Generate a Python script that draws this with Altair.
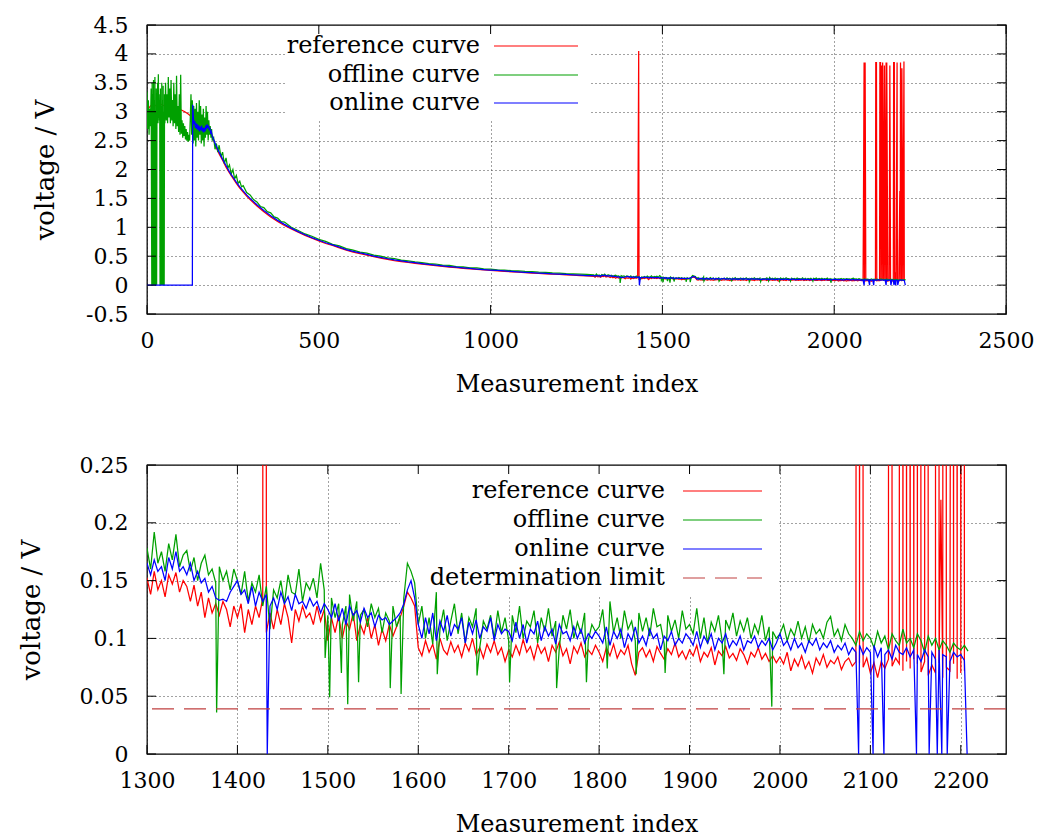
import altair as alt
import pandas as pd

FONT = "DejaVu Serif"
FS = 22      # tick labels
FS_T = 24    # titles and key text
FS_Y = 26    # y-axis title
W, H = 859, 289

series_names = ["reference curve", "offline curve", "online curve"]
series_colors = ["#ff0000", "#00a000", "#0000ff"]
limit_label = "determination limit"
limit_color = "#c04040"
determination_limit = 0.039

top_x_ticks = [0, 500, 1000, 1500, 2000, 2500]
top_y_ticks = [-0.5, 0, 0.5, 1, 1.5, 2, 2.5, 3, 3.5, 4, 4.5]
bot_x_ticks = [1300, 1400, 1500, 1600, 1700, 1800, 1900, 2000, 2100, 2200]
bot_y_ticks = [0, 0.05, 0.1, 0.15, 0.2, 0.25]

# ---------------- reference curve ----------------
ref_early = [(0, 2.98), (5, 3.06), (10, 3.10), (20, 3.12), (30, 3.09), (40, 3.13), (50, 3.10),
             (60, 3.12), (70, 3.08), (80, 3.06), (90, 3.05), (100, 3.03), (110, 3.00), (120, 2.96),
             (128, 2.92), (135, 2.86), (140, 2.80), (150, 2.74), (160, 2.73), (170, 2.71), (180, 2.68),
             (190, 2.58), (200, 2.40), (210, 2.27), (220, 2.16), (230, 2.04), (240, 1.94), (250, 1.85),
             (260, 1.76), (270, 1.68), (280, 1.61), (290, 1.54), (300, 1.48), (320, 1.37), (340, 1.27),
             (360, 1.18), (380, 1.10), (400, 1.03)]
# idx 420..1280, every 20
ref_mid = [.97, .915, .86, .81, .765, .72, .685, .645, .605, .572, .545, .52, .492, .468, .445,
           .425, .408, .392, .377, .363, .35, .337, .324, .312, .301, .29, .28, .27, .262, .253,
           .246, .238, .23, .223, .216, .209, .202, .196, .19, .184, .178, .172, .166, .16]
# idx 1300.., every 4
ref_fine = [
    .152, .138, .158, .142, .150, .136, .155, .147, .157, .140, .150, .145, .132, .146, .128, .140, .118, .135, .122, .130, .120, .132, .125, .110, .128,
    .118, .130, .105, .125, .112, .128, .118, .135, .105, .122, .108, .125, .112, .130, .118, .096, .125, .115, .128, .118, .122, .112, .128, .115, .125,
    .098, .118, .105, .120, .100, .115, .108, .122, .098, .112, .104, .118, .100, .112, .094, .108, .098, .112, .102, .110, .118, .128, .140, .135, .128,
    .092, .085, .098, .088, .095, .082, .100, .090, .086, .097, .088, .094, .084, .096, .089, .100, .086, .092, .083, .095, .088, .098, .086, .092, .080,
    .090, .084, .094, .086, .099, .088, .093, .082, .095, .087, .092, .080, .094, .088, .097, .085, .091, .078, .093, .087, .096, .084, .090, .086, .094,
    .088, .080, .092, .085, .095, .083, .090, .086, .094, .078, .068, .088, .092, .084, .090, .080, .093, .087, .082, .091, .086, .096, .084, .089, .082,
    .090, .085, .094, .080, .088, .084, .092, .077, .089, .085, .093, .083, .087, .081, .091, .086, .078, .088, .084, .092, .082, .087, .080, .085, .079,
    .084, .078, .088, .072, .082, .076, .085, .074, .080, .070, .083, .077, .086, .075, .081, .078, .084, .073, .080, .083, .076, .080, .079, .075, .083,
    .070, .079, .066, .080, .074, .082, .076, .083, .078, .072, .080, .074, .082, .078, .071, .080, .068, .077, .070, .079, .066, .075, .072, .078, .065,
    .070, .072]
ref_spikes = [(1431, 4.05), (2085, 1.19), (2087, 3.85), (2090, 3.85), (2121, 3.85), (2123, 3.85),
              (2133, 3.85), (2135, 3.85), (2138, 3.80), (2141, 3.85), (2146, 3.80), (2151, 3.85),
              (2153, 3.85), (2162, 3.80), (2173, 3.85), (2175, 3.85), (2178, 0.22), (2183, 3.85),
              (2191, 1.63), (2193, 3.85), (2197, 3.75), (2203, 3.87)]

# ---------------- offline curve ----------------
off_early = [(0, 3.35), (2, 2.7), (4, 3.2), (6, 2.6), (8, 3.05), (10, 2.75), (12, 3.4), (14, 0.0), (15, 3.5),
             (16, 0.0), (17, 3.3), (18, 0.0), (19, 3.55), (20, 0.0), (21, 3.2), (22, 0.0), (23, 3.6), (24, 0.0),
             (25, 3.0), (26, 0.0), (27, 3.4), (28, 0.0), (29, 3.1), (30, 2.85), (31, 3.5), (32, 2.8), (33, 3.65),
             (34, 2.9), (35, 3.3), (36, 2.85), (37, 3.2), (38, 0.0), (39, 3.4), (40, 0.0), (41, 3.1), (42, 0.0),
             (43, 3.5), (44, 0.0), (45, 3.2), (46, 0.0), (47, 3.45), (48, 0.0), (49, 3.0), (50, 0.0), (51, 3.3),
             (52, 2.8), (54, 3.5), (56, 2.85), (58, 3.3), (60, 2.8), (62, 3.6), (64, 2.9), (66, 3.4), (68, 2.8),
             (70, 3.55), (72, 2.85), (74, 3.2), (76, 2.75), (78, 3.5), (80, 2.8), (82, 3.3), (84, 2.7), (86, 3.62),
             (88, 2.75), (90, 3.1), (92, 2.65), (94, 3.3), (96, 2.6), (98, 3.64), (100, 2.62), (102, 2.85),
             (104, 2.55), (106, 2.8), (108, 2.58), (110, 2.75), (112, 2.52), (114, 2.7), (116, 2.5), (118, 2.65),
             (120, 2.48), (122, 2.6), (124, 2.5), (126, 2.9), (128, 3.3), (130, 2.6), (132, 3.2), (134, 2.45),
             (136, 3.1), (138, 2.5), (140, 3.05), (142, 2.4), (144, 3.15), (146, 2.55), (148, 3.0), (150, 2.5),
             (152, 3.2), (154, 2.6), (156, 3.1), (158, 2.45), (160, 2.95), (162, 2.5), (164, 3.05), (166, 2.4),
             (168, 2.9), (170, 2.55), (172, 3.1), (174, 2.6), (176, 3.0), (178, 2.5), (180, 2.85), (182, 2.6),
             (184, 2.75), (186, 2.55), (188, 2.7), (190, 2.5), (194, 2.55), (198, 2.35), (202, 2.45), (206, 2.3),
             (210, 2.42), (215, 2.22), (220, 2.3), (225, 2.1), (230, 2.2), (235, 2.02), (240, 2.08), (245, 1.92),
             (250, 2.0), (255, 1.84), (260, 1.9), (265, 1.76), (270, 1.8), (275, 1.7), (280, 1.72), (290, 1.6),
             (300, 1.56), (310, 1.48), (320, 1.44), (330, 1.36), (340, 1.34), (350, 1.27), (360, 1.25),
             (370, 1.18), (380, 1.16), (390, 1.10), (400, 1.09)]
off_mid = [1.0, .945, .885, .845, .79, .755, .705, .68, .632, .605, .57, .552, .518, .5, .47,
           .458, .432, .42, .4, .39, .372, .365, .345, .34, .32, .316, .3, .296, .281, .277,
           .265, .26, .25, .246, .236, .232, .224, .22, .212, .208, .2, .196, .19, .184]
off_fine = [
    .178, .160, .192, .165, .175, .158, .182, .168, .190, .162, .172, .176, .158, .170, .150, .165, .172, .155, .160, .148, .162, .150, .158, .142, .160,
    .150, .138, .158, .132, .148, .140, .155, .128, .145, .108, .142, .135, .150, .130, .155, .140, .138, .160, .132, .148, .142, .152, .135, .165, .142,
    .120, .135, .118, .130, .112, .128, .138, .115, .132, .120, .125, .110, .130, .118, .126, .105, .122, .115, .128, .110, .120, .135, .165, .158, .148,
    .112, .128, .100, .118, .095, .140, .108, .125, .098, .115, .130, .104, .122, .096, .118, .110, .126, .092, .115, .108, .120, .100, .124, .105, .118,
    .098, .120, .105, .128, .100, .115, .110, .124, .096, .118, .106, .126, .102, .115, .092, .120, .108, .125, .100, .114, .104, .122, .098, .112, .106,
    .110, .125, .092, .132, .105, .118, .100, .124, .108, .115, .098, .122, .106, .118, .102, .126, .110, .112, .095, .120, .106, .116, .100, .124, .108,
    .112, .104, .126, .100, .118, .095, .114, .106, .120, .098, .116, .108, .122, .102, .115, .106, .118, .100, .112, .104, .120, .098, .110, .106, .100,
    .104, .112, .098, .108, .102, .115, .100, .110, .096, .112, .104, .108, .100, .114, .119, .102, .108, .098, .112, .104, .100, .094, .106, .098, .104,
    .100, .092, .106, .096, .102, .090, .104, .098, .094, .108, .096, .100, .092, .104, .098, .088, .102, .094, .100, .090, .098, .094, .088, .096, .092,
    .090, .094, .089]
off_dips = [(1377, 0.036), (1497, 0.083), (1502, 0.049), (1515, 0.070), (1522, 0.043), (1534, 0.062),
            (1569, 0.057), (1581, 0.052), (1621, 0.069), (1665, 0.068), (1701, 0.062), (1753, 0.057),
            (1786, 0.062), (1809, 0.074), (1841, 0.069), (1873, 0.070), (1938, 0.069), (1991, 0.041)]

# ---------------- online curve ----------------
on_early = [(0, 0.0), (132, 0.0), (133, 3.12), (135, 2.90), (137, 2.78), (139, 2.84), (141, 2.72), (143, 2.80),
            (145, 2.70), (147, 2.78), (149, 2.68), (151, 2.76), (153, 2.66), (155, 2.74), (157, 2.68), (159, 2.76),
            (161, 2.66), (163, 2.72), (165, 2.64), (167, 2.72), (169, 2.66), (171, 2.76), (173, 2.70), (175, 2.78),
            (177, 2.72), (179, 2.76), (181, 2.68), (183, 2.72), (185, 2.64), (187, 2.66), (190, 2.58), (195, 2.50),
            (200, 2.43), (205, 2.36), (210, 2.30), (220, 2.18), (230, 2.07), (240, 1.96), (250, 1.87), (260, 1.78),
            (270, 1.70), (280, 1.63), (290, 1.56), (300, 1.50), (320, 1.39), (340, 1.29), (360, 1.20), (380, 1.12),
            (400, 1.05)]
on_mid = [.985, .925, .872, .822, .776, .733, .695, .657, .615, .585, .556, .53, .503, .478, .456,
          .435, .418, .401, .387, .372, .359, .346, .333, .32, .309, .298, .288, .278, .269, .26,
          .253, .245, .237, .23, .222, .215, .208, .202, .196, .19, .184, .178, .172, .166]
on_fine = [
    .165, .155, .168, .158, .162, .150, .170, .160, .175, .158, .162, .155, .165, .150, .158, .148, .152, .140, .145, .135, .133, .134, .132, .140, .145,
    .150, .138, .142, .130, .145, .128, .140, .132, .138, .128, .135, .125, .140, .130, .136, .124, .138, .130, .132, .126, .135, .128, .132, .122, .130,
    .125, .118, .130, .115, .126, .112, .128, .120, .124, .114, .126, .118, .122, .110, .120, .116, .118, .112, .115, .118, .122, .130, .142, .150, .135,
    .112, .100, .118, .104, .122, .098, .115, .106, .120, .102, .112, .108, .118, .096, .114, .104, .116, .100, .110, .106, .118, .098, .112, .104, .108,
    .106, .098, .114, .100, .112, .096, .108, .104, .115, .098, .110, .102, .108, .095, .112, .104, .106, .098, .110, .100, .108, .096, .104, .100, .106,
    .102, .096, .110, .094, .106, .100, .108, .092, .104, .098, .110, .096, .102, .094, .108, .100, .104, .090, .102, .098, .106, .094, .100, .096, .104,
    .100, .094, .106, .092, .102, .096, .104, .090, .100, .096, .104, .092, .098, .094, .102, .090, .098, .096, .102, .092, .098, .094, .100, .090, .096,
    .104, .094, .098, .090, .100, .092, .096, .088, .098, .094, .100, .090, .096, .092, .098, .088, .094, .090, .096, .086, .092, .088, .094, .086, .092,
    .088, .094, .084, .092, .086, .090, .082, .094, .088, .086, .092, .084, .090, .086, .080, .090, .084, .088, .082, .090, .086, .084, .080, .088, .084,
    .086, .081]
on_drops = [(1433, 0.0), (2087, 0.0), (2103, 0.0), (2115, 0.0), (2151, 0.0), (2165, 0.0), (2174, 0.0),
            (2179, 0.0), (2185, 0.0), (2207, 0.0)]


def build(name, early, mid, fine, extra):
    pts = list(early)
    pts += [(420 + 20 * i, v) for i, v in enumerate(mid)]
    pts += [(1300 + 4 * i, v) for i, v in enumerate(fine)]
    pts += list(extra)
    pts.sort(key=lambda p: p[0])
    return pd.DataFrame({"idx": [p[0] for p in pts], "voltage": [p[1] for p in pts], "series": name})


curves = [
    build(series_names[0], ref_early, ref_mid, ref_fine, ref_spikes),
    build(series_names[1], off_early, off_mid, off_fine, off_dips),
    build(series_names[2], on_early, on_mid, on_fine, on_drops),
]

dummy = pd.DataFrame({"a": [0]})


def enc_x(dom, ticks):
    return alt.X("idx:Q", scale=alt.Scale(domain=dom, nice=False, zero=False),
                 axis=alt.Axis(values=ticks, format="d", title="Measurement index", grid=True,
                               labelFlush=False, titleFont=FONT, titleFontSize=FS_T,
                               titleFontWeight="normal", labelFont=FONT))


def enc_y(dom, ticks, title_x):
    return alt.Y("voltage:Q", scale=alt.Scale(domain=dom, nice=False, zero=False),
                 axis=alt.Axis(values=ticks, format="~g", labelExpr="replace(datum.label, '\u2212', '-')",
                               title="voltage / V", titleX=title_x, titleBaseline="middle", grid=True,
                               labelFlush=False, titleFont=FONT, titleFontSize=FS_Y,
                               titleFontWeight="normal", labelFont=FONT))


def panel(xdom, ydom, xt, yt, title_x, key_box, text_right, sample_x, rows_y, with_limit):
    ex = enc_x(xdom, xt)
    ey = enc_y(ydom, yt, title_x)
    layers = []
    # opaque key background (hides grid)
    layers.append(alt.Chart(dummy).mark_rect(color="white").encode(
        x=alt.value(key_box[0]), x2=alt.value(key_box[1]), y=alt.value(key_box[2]), y2=alt.value(key_box[3])))
    for df, c in zip(curves, series_colors):
        layers.append(alt.Chart(df).mark_line(color=c, strokeWidth=1.25, clip=True).encode(x=ex, y=ey))
    if with_limit:
        layers.append(alt.Chart(pd.DataFrame({"voltage": [determination_limit]})).mark_rule(
            color=limit_color, strokeWidth=1.2, strokeDash=[22, 10]).encode(y=ey))
    # key entries
    labels = series_names + ([limit_label] if with_limit else [])
    colors = series_colors + ([limit_color] if with_limit else [])
    for i, (lab, col) in enumerate(zip(labels, colors)):
        layers.append(alt.Chart(dummy).mark_text(text=lab, align="right", baseline="middle", font=FONT,
                                                 fontSize=FS_T, color="black").encode(
            x=alt.value(text_right), y=alt.value(rows_y[i])))
        dash = [22, 10] if lab == limit_label else [1, 0]
        layers.append(alt.Chart(dummy).mark_rule(color=col, strokeWidth=1.2, strokeDash=dash).encode(
            x=alt.value(sample_x[0]), x2=alt.value(sample_x[1]), y=alt.value(rows_y[i])))
    # inward ticks on all four sides
    xtd = pd.DataFrame({"idx": xt})
    ytd = pd.DataFrame({"voltage": yt})
    tl = 9
    layers.append(alt.Chart(xtd).mark_rule(color="black", strokeWidth=1).encode(
        x=ex, y=alt.value(H), y2=alt.value(H - tl)))
    layers.append(alt.Chart(xtd).mark_rule(color="black", strokeWidth=1).encode(
        x=ex, y=alt.value(0), y2=alt.value(tl)))
    layers.append(alt.Chart(ytd).mark_rule(color="black", strokeWidth=1).encode(
        y=ey, x=alt.value(0), x2=alt.value(tl)))
    layers.append(alt.Chart(ytd).mark_rule(color="black", strokeWidth=1).encode(
        y=ey, x=alt.value(W - tl), x2=alt.value(W)))
    return alt.layer(*layers).properties(width=W, height=H)


top = panel([0, 2500], [-0.5, 4.5], top_x_ticks, top_y_ticks, -102,
            (138, 443, 1.5, 94), 333, (347, 431), [21, 50, 78], False)
bottom = panel([1300, 2250], [0, 0.25], bot_x_ticks, bot_y_ticks, -116,
               (253, 631, 1.5, 130), 518, (536, 615), [26, 55, 84, 113], True)

chart = alt.vconcat(top, bottom, spacing=151, bounds="flush").properties(
    padding={"left": 17, "top": 13, "right": 4, "bottom": 2},
    background="white",
).configure_view(
    stroke="black", strokeWidth=1.3
).configure_axis(
    labelFont=FONT, labelFontSize=FS, labelColor="black",
    titleFont=FONT, titleFontSize=FS_T, titleFontWeight="normal", titleColor="black",
    domain=False, ticks=False, tickSize=0,
    gridColor="#444444", gridDash=[1, 3], gridWidth=1, gridOpacity=1,
).configure_axisX(
    labelPadding=16, titlePadding=21
).configure_axisY(
    labelPadding=19
)

chart.save("out.html", embed_options={"renderer": "svg", "actions": False})
